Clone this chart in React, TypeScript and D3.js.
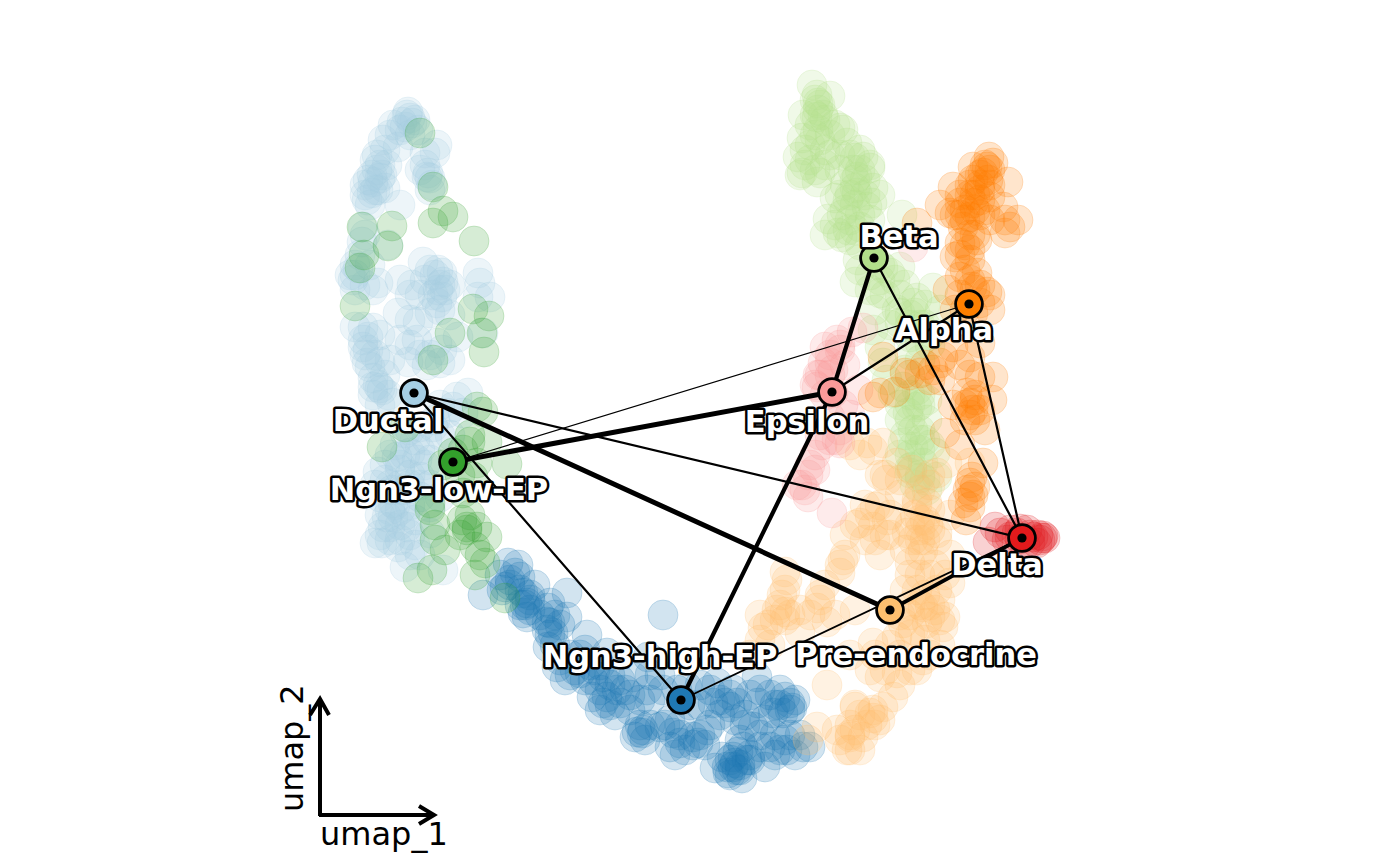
import React from "react";
import * as d3 from "d3";

type P = [number, number];

const ductalCells: P[] = [[8.8,70.3],[9,69.7],[9.2,69.2],[7.3,69],[8.2,69.3],[8.5,68.8],[9.5,69.5],[11.7,67],[10.5,66.2],[11.5,66.2],[6.3,67.5],[7.8,66.8],[5.7,66],[6.7,65],[5.7,64.5],[6,63.7],[4.5,63],[5.3,63.3],[6.5,62.7],[4.7,61.5],[5.2,62.2],[8,61],[10.8,64.2],[10.7,63.8],[11,63.7],[4.3,58.8],[4.2,57.3],[6.8,57],[3.3,53.5],[3.8,54.7],[5.8,53.2],[3.5,52.5],[5.3,52.5],[10.3,55.3],[8,53.5],[9.2,53],[10.5,53.5],[12.2,54.2],[12.3,53.3],[11.8,52.5],[12.2,51.8],[11.7,51.2],[15.8,54.2],[16,53.2],[17,51.8],[15.8,51.8],[7.8,50.2],[9,49.5],[9.8,49.3],[11,50.2],[3.5,48.8],[4.3,48.8],[5.3,48.7],[4.3,46.8],[4.5,46],[4.7,45.2],[6,45.3],[7,45.5],[8.8,45.3],[9.7,47.5],[11.7,47.2],[13,45.5],[12,45.2],[10.7,45],[5.3,43.7],[6,42.7],[13.8,47.8],[16.3,48.2],[5.3,42.8],[6.2,42.5],[5.3,42],[7.2,41.2],[13.7,41.8],[14.8,42.2],[8.5,38.2],[10.7,37.5],[7.7,35.8],[5.8,34.3],[9.7,35.5],[10,33.8],[7.3,31.2],[6.7,29.8],[8,30.5],[8.7,28.8],[6.2,27.2],[5.5,27.2],[7.8,26.8],[8.5,24.8],[12.3,24.5],[11,28.2],[7,28.8],[6.3,28.8],[10,31.8],[7.2,32.5],[11,30.8],[6,31.8],[7.3,29.8],[13.3,40.8],[12.7,40.2],[14.3,40.2],[10,38.8],[11.3,38.8],[9,36.2],[8.3,32.5],[12,31.8],[8,34.5],[9.5,37.5],[7,36],[11,35.5],
[8,68.5],[9,68],[8.7,70],[9.8,68.5],[7,68],[6.5,66.5],[5.5,65.5],[6,65],[5.2,64],[4.8,63.5],[5.8,62.5],[4.5,62],[5,61],[6.2,64],[5.5,62.5],[10.5,65],[10,64.5],[11.2,63],[11,62.5],[4.5,58],[4,56],[3.5,55],[3,54],[3.5,54],[5,55],[4.5,53],[11.5,54],[12,53],[11.8,54.5],[12.5,52.5],[12,50.5],[11.3,52],[13,53],[11,54.5],[9,52],[10,52],[13,50],[9,47],[8,47.5],[6,48],[4.8,47.8],[4.3,47.5],[4.8,46.5],[5,44.8],[5.5,46],[6.5,44],[10,46],[11,46],[12.2,46.5],[5.8,43],[6.8,42],[6,41],[7.5,37],[8.5,36],[8,35],[9,34],[8,33],[7,33],[9,33],[6.5,33.5],[6,30],[7.5,31],[8.5,30],[9,31],[7,30.5],[8,29],[9.5,29.5],[6,28],[7,27.5],[9,28],[8,27.5],[9.5,27],[10,26],[5.5,33],[6.5,35],[10,36.5],[10.5,35],[9,38.5],[12,38],[13,38],[11.5,39.5],[12,41],[10,33],[11,33],[9,26]];
const highCells: P[] = [[16.3,22],[18.5,22.8],[18.8,25.2],[19.5,24.2],[20,23.8],[20.3,22.2],[18.2,22.5],[19,23],[21,21.5],[24.7,22.2],[23,21.2],[20.3,20.2],[23,19.2],[22.7,18.5],[20.7,21.2],[20.7,19.8],[22.8,20.7],[22.7,19.3],[23.3,18.2],[24.7,19.8],[26.7,18],[22.8,16.8],[23.7,14.8],[24.5,13.5],[26.5,16.5],[26,14.2],[28.7,16.2],[27.3,13.5],[28.3,13.8],[27.2,11.8],[28.7,11.8],[29.7,12.5],[30,11.2],[28.3,11.2],[31.3,13.8],[32.8,15.8],[34.3,20],[32.7,12.5],[34.3,12.5],[35.7,12.5],[36.7,12.8],[31.7,8.3],[32.2,8.2],[32.3,8.5],[35.3,8.2],[35,6.8],[36,7.2],[37.3,7.8],[37.8,7.2],[37.3,7],[34,8.8],[38.7,8.5],[39.7,13.2],[40,11.5],[40.5,11.2],[41,10.8],[39.3,11.2],[41.3,12.5],[43.7,13.8],[41.7,11.2],[43.8,11.2],[45.3,10.2],[46.5,11.8],[47,11.2],[47,10.5],[46.3,10.2],[47.2,10.7],[43.3,8.8],[42.3,6.8],[40.7,4.8],[41.3,4.8],[41.7,4.5],[41,5.5],[42.2,3.7],[44.5,4.8],[39.5,4.7],[46,6.5],[46.7,6.5],[48.3,6.8],[49,6.8],[45,6.8],[44,6.8],[42,7.5],[41.3,5.8],
[19,23.5],[20,22.5],[21,20.5],[20,21],[22,20],[23.5,20],[23,18],[24,19],[23.5,17],[24,15.5],[25,16],[25.5,14.5],[26,16],[27,15],[27.5,14.5],[26.5,13.5],[25,14],[28,15],[29,14],[29,13],[28,12.5],[30,13.5],[30.5,12.5],[29,11],[31,12],[28,10.5],[29.5,10],[32,11.5],[31,10.5],[33,11.5],[32,9],[33,9],[32.5,7.5],[31.5,7.8],[34.5,9],[35,9.5],[36,9],[36,8],[35.5,6],[36.5,6.5],[38,8],[38.5,7],[39,9],[40,10],[41.5,9.5],[42.5,10],[41,12],[39,12.5],[38,13],[43,12],[44,12.5],[45,12],[45.5,11],[46,11],[46,12.5],[47.5,11.5],[44.5,9.5],[42.5,9],[44,8],[45.5,8],[47,8],[48,8],[46.5,7.5],[45.5,6],[47.5,6],[43,6],[41.8,6.3],[41,4],[40.2,5.8],[42,4.5],[42.7,5.5],[43,5.5],[41.5,5.2],[40.8,4.2],[42,5],[34,14],[33,14],[37,11],[38,11],[20.5,21],[21,22],[18,24],[19.8,25],[21.5,23]];
const lowCells: P[] = [[10,68.2],[11.3,62.8],[12.3,60.4],[11.3,59.2],[13.3,59.8],[15.4,57.4],[4.2,58.8],[7.2,58.9],[6.8,56.9],[4.4,56],[4,54.7],[3.5,50.9],[15.3,50.6],[16.9,49.9],[13,48.2],[16.2,48.2],[16.4,46.3],[11.3,45.5],[15.7,40.8],[16.3,40.3],[6.2,36.8],[16.7,37.3],[15,37.3],[14.3,36.5],[12.3,35],[15.7,35.2],[18.7,35.1],[15.3,33.8],[14.3,32.2],[11,30.5],[11,31.2],[14.2,29.5],[15.7,28.8],[14.7,28.8],[16.7,27.8],[14.7,28.5],[11.5,27.5],[12.5,26.5],[15.5,26.8],[16.5,25.2],[15.5,24],[9.8,23.7],[11.2,24.5],[18.5,21.7],[8.5,38.8],[13.3,36.2],[15,38],[14,34],[15,30],[14,28],[16,26],[11.5,29]];
const betaCells: P[] = [[49.2,73],[49.7,72],[51,71.9],[49.8,71.2],[49.8,70.5],[48.3,70],[49.7,69.8],[50.3,70],[52.3,68.5],[52,68.7],[48.2,67.7],[49.5,68],[47.8,65.8],[48.2,64.2],[49.5,64.5],[52.7,67.2],[53.5,65.7],[54.3,65.8],[55,64.7],[53.3,64.5],[50,64.2],[49.7,63.3],[53.7,63.8],[55.3,62.7],[53.5,62.7],[51.5,61.7],[52.8,61.5],[53.7,62.2],[55.2,61.2],[58.2,60],[50.8,59.6],[52.2,60],[51.8,58.2],[52.8,58.5],[52.2,57.8],[53.8,55.5],[58,54.8],[53.5,53.3],[57,54.2],[56,52.2],[61.3,52.7],[59.7,51.7],[59.3,51.2],[58,50.2],[54.7,60.8],[54,58.8],[56.3,54.7],[55.3,48.5],[56,46.8],[56.3,45.2],[56.7,43.5],[60,47.2],[58,49.2],[59,47.8],[57.7,50.5],[59.5,50.2],[58.8,40.2],[59.7,40.8],[60.7,39.5],[59.3,38.5],[58.3,37.2],[60,37.5],[61.5,36.2],[59.2,34.8],[59,34.7],[60.3,35.2],[59,34.2],[61.7,33.8],[58,39.5],[59.7,42.5],[59.3,36.8],[60,36.5],[58.3,42.8],[57.3,42.2],
[49.5,71.5],[50,71],[49.5,70],[50.5,69.5],[49,69],[49.8,68.5],[50,67.5],[49,67],[48.5,66.5],[50.5,66.5],[51,68],[51.5,69],[49,65.5],[50.5,65],[51,66],[48,64],[48.5,65],[52,64.5],[52,66],[53,66],[54,66.5],[54,64.5],[55,65],[53.5,63.5],[54.5,63.5],[52.5,63],[53,62],[54.5,62],[52.5,60.5],[53.5,61],[54,60],[53,59.5],[53.5,58.5],[55,59.5],[51.5,59],[53,57.5],[50.5,58],[52,62],[56,62],[54,57],[54,54.5],[55,54],[56,53.5],[56,55],[57.5,53.5],[56.5,52],[55,52.5],[58,52],[58.5,53],[59,50],[60,49],[60.5,51],[60.5,49],[59,49],[61,48],[62,50.5],[55.5,50.5],[57,49],[59,46],[60,45.5],[61,47],[58.5,44.5],[59,42],[60,42],[60,41],[59,41],[58,41],[60.7,41.5],[61,37],[60,38.5],[59,39.5],[58.5,38],[60.5,37.5],[58,36],[59,36],[60,34],[60.5,33.5],[59.5,33],[60,33.7],[60.7,32.5]];
const alphaCells: P[] = [[66.9,65.8],[66.7,64.8],[67,64.5],[67.3,65.2],[66.3,64.2],[65.3,64.8],[68.8,63.3],[63.3,62.8],[65.3,63.5],[66,62.5],[62,61],[64,61.2],[65.3,61.2],[67,61.8],[65,59.8],[63,60.2],[68.3,60.8],[69.8,59.5],[69,58.8],[68.5,58.2],[64.3,58.8],[59.7,59.2],[64,57.2],[65.7,57.5],[63.5,55.8],[65,55.5],[65.7,54.2],[64,53.8],[66.7,52.3],[62.8,52.5],[65.2,52.8],[66,51.2],[65.3,50.2],[67,50.5],[66,47.2],[63.3,46.8],[66,43.8],[67.3,43.8],[67.2,41.5],[64.7,42.2],[65,41.2],[65.3,40.5],[63.3,41],[62.3,45.8],[61.3,44.5],[60,44.2],[59,44],[58.5,44.2],[56.3,45.8],[56,42.2],[55.3,41.8],[57.5,42.3],[62.5,38.2],[66.5,38.5],[66.3,35.2],[65.2,33.8],[65,33.2],[64.3,31.2],[65,30.8],[65,31.8],[62,45.2],[65,45.8],
[66.5,65],[66,64],[66.8,63.5],[66,63],[67,63],[65,63],[65.5,62],[64,62],[65,62],[66,61.5],[64.5,60.5],[65.5,60.5],[66.5,60.5],[66,60],[63.5,60],[64.5,59.5],[67,59.5],[68.5,59.5],[65,58],[64,60],[65.5,58],[64.5,57],[64,56],[65,56.5],[64.5,54.5],[65,53.5],[65.5,52.5],[64,52],[63.5,50.5],[66,53],[64.5,50.5],[67,52],[64,45],[65,44],[65.5,42],[65.5,41.5],[64.5,41],[65,40],[66,40.5],[65.5,39.5],[64.5,39.5],[60.5,45],[61,43.5],[62,43.5],[64,37],[65.3,32],[64.8,32.5],[65.5,32.8],[64.6,29.5]];
const epsilonCells: P[] = [[54.3,48.7],[53.2,48.3],[51.7,47.5],[50.5,46.8],[52,46.5],[50.3,45.2],[51,45.2],[49.5,43],[49.7,42.8],[53.8,42.5],[51.3,42.2],[51,39.8],[51.7,37.5],[50.2,37],[49.5,36],[48.8,34],[47.7,33],[48.8,31.8],[51.2,30.2],[52,37.2],[59.3,56.8],[52,47],[51,46],[51.3,44.5],[50,44],[52.5,45],[51,44],[49.8,44],[50.5,42],[52.3,41],[52,38.5],[51,37.5],[50,38],[49.5,34.5],[49,35],[48.2,33],[48.5,32.5],[53,40]];
const deltaCells: P[] = [[66.8,27.3],[67.5,28.8],[69,28.5],[69.7,28.2],[70.7,28.5],[71.3,27.8],[72.2,27.7],[72.5,27.7],[72,27.5],[71.7,27.2],[68.7,27.5],[68,28.2],[71,27.2],[72.3,27.9],[70,27.6],[69,27.8],[70,28.6],[71,28],[71.8,28],[70.5,27]];
const preCells: P[] = [[54.7,37.2],[55.3,36.5],[56.3,37.2],[56.7,33.5],[57.7,35.2],[59.2,34.5],[61.7,34.2],[62.7,35.2],[65,35.2],[54,29.2],[55.3,28.8],[55.5,30.8],[56.7,29.5],[58.7,28.2],[59.7,31.5],[60.7,31.2],[60,32.5],[61.7,28.2],[60,27.5],[61,28.5],[52.5,26],[52,24.2],[46.5,24.3],[46.5,22.5],[45.7,20.5],[46.5,19.5],[50,21.5],[49.7,20.7],[50.7,19.3],[53.5,20.5],[44.3,18.7],[48,18.2],[44,17.5],[59,25.2],[60.3,26.5],[61.7,27.5],[59.7,22.5],[61.7,22.5],[63,23.2],[62,19.5],[60.7,19.2],[57.7,17.8],[59.3,18.5],[62.3,18.8],[58.3,19.2],[60.3,15.5],[55.3,17.2],[59.7,14.5],[57.7,14.2],[56,13.8],[55,14.5],[50.7,13],[53.5,10.8],[55.3,9.7],[55,10.2],[55.3,10.5],[57.3,11.8],[56.3,10.8],[53,7.8],[52.7,6.5],[51.7,8.5],[54,6.5],[54.3,7.8],[49.7,8.8],[48.8,7.5],[62.5,19.8],[60.3,20.8],
[59.5,30],[60,29.5],[61,30.5],[60.5,29.5],[59,29],[60.8,29],[60,28.5],[59.3,27.5],[60.5,27.5],[59.7,31],[58.5,26.5],[60,26],[61.5,25],[59,24],[60,24],[61,24],[58.5,22.5],[60.5,22],[59,21],[60,21],[61,21],[62,21.5],[58,20],[59,20],[61.5,20.5],[61,19.8],[59,18],[60.5,17.5],[57,17],[58,16],[56.5,14.5],[59,14.5],[61,16],[53.5,11],[54,10],[55.5,9],[56,9.5],[54.7,9],[53,9],[53,8],[52,7.5],[53,6.5],[53.5,8.5],[46.7,23.5],[46,21],[46.5,20.3],[46.2,22],[52,25],[52.3,25.5],[50.5,23],[50,22],[49,20],[48,20.5],[47,20],[45.5,19.5],[44.8,19],[56,26],[55.5,27.5],[56.5,28],[54.5,27.5],[55,30],[57,30],[61,33],[58,32],[61,34],[56.5,34],[58,33.5],
[54,36],[53,37],[56,34],[56,31],[54.5,31],[53.5,29],[52.5,28],[57,28],[63,26],[63,30],[62.5,24],[62,17],[58,13],[55.5,16],[53,16],[51.5,20],[45,17],[43,16],[44,20]];

const clusterNames = ["Ductal", "Ngn3-high-EP", "Ngn3-low-EP", "Beta", "Pre-endocrine", "Epsilon", "Alpha", "Delta"];
const clusterColors = ["#A6CEE3", "#1F78B4", "#33A02C", "#B2DF8A", "#FDBF6F", "#FB9A99", "#FF7F00", "#E31A1C"];
const clusterCells = [ductalCells, highCells, lowCells, betaCells, preCells, epsilonCells, alphaCells, deltaCells];
const nodeX = [9.4, 36.1, 13.3, 55.4, 57, 51.2, 64.9, 70.2];
const nodeY = [42.2, 11.5, 35.3, 55.7, 20.5, 42.3, 51.1, 27.7];
const labelX = [6.8, 34, 11.9, 57.9, 59.6, 48.7, 62.4, 67.7];
const labelY = [39.3, 15.7, 32.4, 57.7, 15.9, 39.2, 48.4, 24.9];
const edgeFrom = [0, 2, 0, 0, 1, 5, 1, 4, 2, 5, 3, 6];
const edgeTo = [4, 5, 7, 1, 5, 3, 7, 7, 6, 6, 7, 7];
const edgeWidths = [5, 5, 2.2, 2.2, 4.2, 4.2, 1.8, 3.8, 1.2, 2.2, 2.2, 2.2];

const x = d3.scaleLinear().domain([0, 100]).range([320, 1320]);
const y = d3.scaleLinear().domain([0, 80]).range([815, 15]);

const font = "'DejaVu Sans', sans-serif";

export default function App() {
  return (
    <svg width={1400} height={866} style={{ position: "absolute", left: 0, top: 0, background: "#fff" }} fontFamily={font}>
      <g>
        {clusterCells.map((cells, i) =>
          cells.map((c, j) => (
            <circle key={`${i}-${j}`} cx={x(c[0])} cy={y(c[1])} r={15} fill={clusterColors[i]} fillOpacity={0.2} stroke={clusterColors[i]} strokeOpacity={0.2} strokeWidth={1} />
          ))
        )}
      </g>
      <g stroke="#000" strokeLinecap="round">
        {edgeFrom.map((f, i) => (
          <line key={i} x1={x(nodeX[f])} y1={y(nodeY[f])} x2={x(nodeX[edgeTo[i]])} y2={y(nodeY[edgeTo[i]])} strokeWidth={edgeWidths[i]} />
        ))}
      </g>
      <g>
        {clusterNames.map((n, i) => (
          <g key={n}>
            <circle cx={x(nodeX[i])} cy={y(nodeY[i])} r={13.4} fill={clusterColors[i]} stroke="#000" strokeWidth={2.8} />
            <circle cx={x(nodeX[i])} cy={y(nodeY[i])} r={4.6} fill="#000" />
          </g>
        ))}
      </g>
      <g fontWeight="bold" fontSize={30.5} textAnchor="middle">
        {clusterNames.map((n, i) => (
          <text key={n} x={x(labelX[i])} y={y(labelY[i])} fill="#fff" stroke="#000" strokeWidth={5} strokeLinejoin="round" paintOrder="stroke" dominantBaseline="middle">{n}</text>
        ))}
      </g>
      <g fill="none" stroke="#000" strokeWidth={4}>
        <path d={`M${x(-0.1)},${y(0)}H${x(11.3)}`} />
        <path d={`M${x(0)},${y(-0.1)}V${y(11.5)}`} />
        <path d={`M${x(9.9)},${y(0.9)}L${x(11.4)},${y(0)}L${x(9.9)},${y(-0.9)}`} />
        <path d={`M${x(-1)},${y(10)}L${x(0)},${y(11.6)}L${x(0.9)},${y(10)}`} />
      </g>
      <text x={x(0)} y={y(-3)} fontSize={32} fill="#000">umap_1</text>
      <text transform={`translate(${x(-1.7)},${y(0.3)}) rotate(-90)`} fontSize={32} fill="#000">umap_2</text>
    </svg>
  );
}
